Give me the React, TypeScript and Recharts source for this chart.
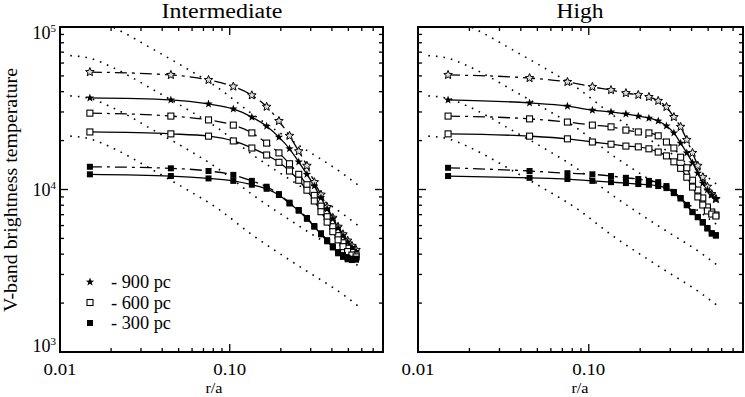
import React from "react"
import { LineChart, Line, XAxis, YAxis, ReferenceArea } from "recharts"

// radial positions (r/a) of the model points
const radii = [0.015, 0.045, 0.075, 0.105, 0.135, 0.165, 0.195, 0.225, 0.255, 0.285, 0.315, 0.345, 0.375, 0.405, 0.435, 0.465, 0.495, 0.525, 0.555]

// Intermediate panel
const intStar900Dash = [52800, 50700, 47200, 43000, 38000, 32300, 26400, 21400, 17200, 14000, 11100, 9300, 7800, 6700, 5900, 5300, 4850, 4500, 4250]
const intStar900 = [36600, 35600, 33600, 31300, 27900, 24500, 21000, 17800, 14800, 12400, 10500, 8900, 7600, 6600, 5800, 5200, 4750, 4400, 4150]
const intSq600Dash = [29500, 28300, 26800, 24900, 22300, 19300, 16800, 14400, 12400, 10700, 9200, 7900, 6800, 5900, 5200, 4700, 4350, 4100, 3950]
const intSq600 = [22600, 22000, 21300, 19900, 18000, 16300, 14700, 13000, 11400, 9900, 8500, 7300, 6300, 5500, 4900, 4450, 4150, 3950, 3850]
const intFill300Dash = [13800, 13500, 13000, 12300, 11300, 10400, 9370, 8300, 7480, 6680, 5960, 5380, 4880, 4480, 4120, 3950, 3800, 3750, 3750]
const intFill300 = [12400, 12100, 11700, 11300, 10700, 10100, 9250, 8200, 7400, 6600, 5900, 5300, 4800, 4400, 4050, 3850, 3720, 3680, 3700]

// High panel
const highStar900Dash = [50700, 48500, 45900, 42800, 40900, 39200, 38200, 37100, 35100, 32200, 27900, 24300, 20200, 16800, 14000, 11900, 10400, 9370, 8740]
const highStar900 = [35600, 34100, 32600, 30800, 30000, 29200, 28300, 27500, 26400, 24600, 22300, 19300, 16800, 14600, 12600, 10950, 9930, 9250, 8750]
const highSq600Dash = [28300, 27200, 26000, 24900, 24300, 23200, 22600, 22300, 21400, 19600, 18000, 15800, 13600, 11400, 9930, 8870, 7800, 7270, 6970]
const highSq600 = [22000, 21300, 20500, 19600, 19000, 18500, 18300, 17800, 17000, 16100, 14800, 13500, 11900, 10350, 9000, 8030, 7380, 7060, 6870]
const highFill300Dash = [13600, 13000, 12600, 12400, 12100, 11800, 11600, 11300, 11100, 10500, 9660, 8870, 8040, 7280, 6780, 6310, 5800, 5390, 5240]
const highFill300 = [12100, 11800, 11600, 11300, 11100, 10950, 10800, 10700, 10500, 10200, 9500, 8800, 8000, 7250, 6750, 6250, 5750, 5350, 5200]

// dotted reference curves (same in both panels)
const guideR = [0.0115, 0.015, 0.02, 0.026, 0.033, 0.054, 0.084, 0.136, 0.26, 0.47, 0.57]
const guideA = [118000, 113800, 101000, 87700, 76000, 56600, 42700, 29100, 18500, 12400, 10650]
const guideB = [66700, 64200, 57000, 49500, 42900, 31900, 24100, 16400, 10500, 7000, 6000]
const guideC = [37700, 36300, 32200, 28000, 24200, 18100, 13600, 9300, 5900, 3960, 3400]
const guideD = [21300, 20500, 18200, 15800, 13700, 10200, 7700, 5250, 3340, 2240, 1920]

const xTicks = [0.01, 0.02, 0.03, 0.04, 0.05, 0.06, 0.07, 0.08, 0.09, 0.1, 0.2, 0.3, 0.4, 0.5, 0.6, 0.7]
const xMajor = [0.01, 0.1]
const yTicks = [1000, 2000, 3000, 4000, 5000, 6000, 7000, 8000, 9000, 10000, 20000, 30000, 40000, 50000, 60000, 70000, 80000, 90000, 100000]
const yMajor = [1000, 10000, 100000]
const legendItems = ["- 900 pc", "- 600 pc", "- 300 pc"]

const FONT = "'Liberation Serif', 'DejaVu Serif', serif"
const DASH = "12 5 3 5"
const DOT = "1.6 6"

const pts = (xs: number[], ys: number[]) => xs.map((x, i) => ({ x, y: ys[i] }))

function starPath(cx: number, cy: number, R: number, r: number) {
  let d = ""
  for (let i = 0; i < 10; i++) {
    const rad = i % 2 === 0 ? R : r
    const a = -Math.PI / 2 + (i * Math.PI) / 5
    d += (i === 0 ? "M" : "L") + (cx + rad * Math.cos(a)).toFixed(2) + "," + (cy + rad * Math.sin(a)).toFixed(2)
  }
  return d + "Z"
}

type Mark = "star" | "openStar" | "openSq" | "fillSq"

function Marker({ kind, cx, cy }: { kind: Mark; cx: number; cy: number }) {
  if (kind === "star") return <path d={starPath(cx, cy, 4.4, 1.8)} fill="#000" />
  if (kind === "openStar") return <path d={starPath(cx, cy, 4.5, 2)} fill="#ddd" stroke="#000" strokeWidth={1} />
  if (kind === "openSq") return <rect x={cx - 3} y={cy - 3} width={6} height={6} fill="#fff" stroke="#000" strokeWidth={1.1} />
  return <rect x={cx - 3} y={cy - 3} width={6} height={6} fill="#000" />
}

const dotFor = (kind: Mark) => (p: any) => <Marker key={p.index} kind={kind} cx={p.cx} cy={p.cy} />

function makeXTick(plotH: number) {
  return (p: any) => {
    const v = p.payload.value
    const major = xMajor.includes(v)
    const len = major ? 8 : 4
    return (
      <g>
        <line x1={p.x} y1={p.y} x2={p.x} y2={p.y - len} stroke="#000" strokeWidth={1.3} />
        <line x1={p.x} y1={p.y - plotH} x2={p.x} y2={p.y - plotH + len} stroke="#000" strokeWidth={1.3} />
        {major && (
          <text x={p.x} y={p.y + 23} textAnchor="middle" fontFamily={FONT} fontSize={17} textLength={33} lengthAdjust="spacingAndGlyphs" fill="#000">
            {v.toFixed(2)}
          </text>
        )}
      </g>
    )
  }
}

function makeYTick(plotW: number, labels: boolean) {
  const shift: Record<number, number> = { 1000: -6, 10000: 0, 100000: 6 }
  return (p: any) => {
    const v = p.payload.value
    const major = yMajor.includes(v)
    const len = major ? 8 : 4
    const exp = Math.round(Math.log10(v))
    return (
      <g>
        <line x1={p.x} y1={p.y} x2={p.x + len} y2={p.y} stroke="#000" strokeWidth={1.3} />
        <line x1={p.x + plotW} y1={p.y} x2={p.x + plotW - len} y2={p.y} stroke="#000" strokeWidth={1.3} />
        {labels && major && (
          <text x={p.x - 4} y={p.y + 6 + shift[v]} textAnchor="end" fontFamily={FONT} fontSize={18} fill="#000">
            10<tspan dy={-7} fontSize={11}>{exp}</tspan>
          </text>
        )}
      </g>
    )
  }
}

type Series = { data: number[]; kind: Mark; dashed: boolean }

function Panel({ width, yWidth, right, series, labels }: { width: number; yWidth: number; right: number; series: Series[]; labels: boolean }) {
  const plotW = width - yWidth - right
  const plotH = 397 - 27 - 45
  const guides = [guideA, guideB, guideC, guideD]
  return (
    <LineChart width={width} height={397} margin={{ top: 27, right, bottom: 0, left: 0 }}>
      <XAxis
        dataKey="x"
        type="number"
        scale="log"
        domain={[0.01, 0.8]}
        allowDataOverflow
        ticks={xTicks}
        interval={0}
        height={45}
        axisLine={false}
        tickLine={false}
        tickSize={0}
        tickMargin={0}
        tick={makeXTick(plotH)}
      />
      <YAxis
        dataKey="y"
        type="number"
        scale="log"
        domain={[1000, 100000]}
        allowDataOverflow
        ticks={yTicks}
        interval={0}
        width={yWidth}
        axisLine={false}
        tickLine={false}
        tickSize={0}
        tickMargin={0}
        tick={makeYTick(plotW, labels)}
      />
      {guides.map((g, i) => (
        <Line
          key={"g" + i}
          data={pts(guideR, g)}
          dataKey="y"
          type="monotone"
          stroke="#000"
          strokeWidth={1.6}
          strokeDasharray={DOT}
          dot={false}
          activeDot={false}
          isAnimationActive={false}
        />
      ))}
      {series.map((s, i) => (
        <Line
          key={"s" + i}
          data={pts(radii, s.data)}
          dataKey="y"
          type="monotone"
          stroke="#000"
          strokeWidth={1.3}
          strokeDasharray={s.dashed ? DASH : undefined}
          dot={dotFor(s.kind)}
          activeDot={false}
          isAnimationActive={false}
        />
      ))}
      <ReferenceArea x1={0.01} x2={0.8} y1={1000} y2={100000} fill="none" stroke="#000" strokeWidth={2} ifOverflow="visible" />
    </LineChart>
  )
}

export default function App() {
  const intSeries: Series[] = [
    { data: intStar900Dash, kind: "openStar", dashed: true },
    { data: intStar900, kind: "star", dashed: false },
    { data: intSq600Dash, kind: "openSq", dashed: true },
    { data: intSq600, kind: "openSq", dashed: false },
    { data: intFill300Dash, kind: "fillSq", dashed: true },
    { data: intFill300, kind: "fillSq", dashed: false },
  ]
  const highSeries: Series[] = [
    { data: highStar900Dash, kind: "openStar", dashed: true },
    { data: highStar900, kind: "star", dashed: false },
    { data: highSq600Dash, kind: "openSq", dashed: true },
    { data: highSq600, kind: "openSq", dashed: false },
    { data: highFill300Dash, kind: "fillSq", dashed: true },
    { data: highFill300, kind: "fillSq", dashed: false },
  ]
  const legendKinds: Mark[] = ["star", "openSq", "fillSq"]
  return (
    <div style={{ position: "absolute", left: 0, top: 0, width: 745, height: 397, background: "#fff" }}>
      <div style={{ position: "absolute", left: 0, top: 0 }}>
        <Panel width={390} yWidth={60} right={7} series={intSeries} labels />
      </div>
      <div style={{ position: "absolute", left: 383, top: 0 }}>
        <Panel width={362} yWidth={35} right={2} series={highSeries} labels={false} />
      </div>
      <svg width={745} height={397} style={{ position: "absolute", left: 0, top: 0, pointerEvents: "none" }}>
        <g fontFamily={FONT} fill="#000">
          <text x={222} y={18} fontSize={20} textAnchor="middle" textLength={121} lengthAdjust="spacingAndGlyphs">Intermediate</text>
          <text x={580} y={18} fontSize={20} textAnchor="middle" textLength={47} lengthAdjust="spacingAndGlyphs">High</text>
          <text x={214} y={393} fontSize={15} textAnchor="middle" textLength={17} lengthAdjust="spacingAndGlyphs">r/a</text>
          <text x={580} y={393} fontSize={15} textAnchor="middle" textLength={17} lengthAdjust="spacingAndGlyphs">r/a</text>
          <text transform="translate(17,190) rotate(-90)" fontSize={18} textAnchor="middle" textLength={244} lengthAdjust="spacingAndGlyphs">V-band brightness temperature</text>
          {legendItems.map((t, i) => (
            <g key={t}>
              <Marker kind={legendKinds[i]} cx={90} cy={282 + i * 20.5} />
              <text x={111} y={288 + i * 20.5} fontSize={18} textLength={60} lengthAdjust="spacingAndGlyphs">{t}</text>
            </g>
          ))}
        </g>
      </svg>
    </div>
  )
}
